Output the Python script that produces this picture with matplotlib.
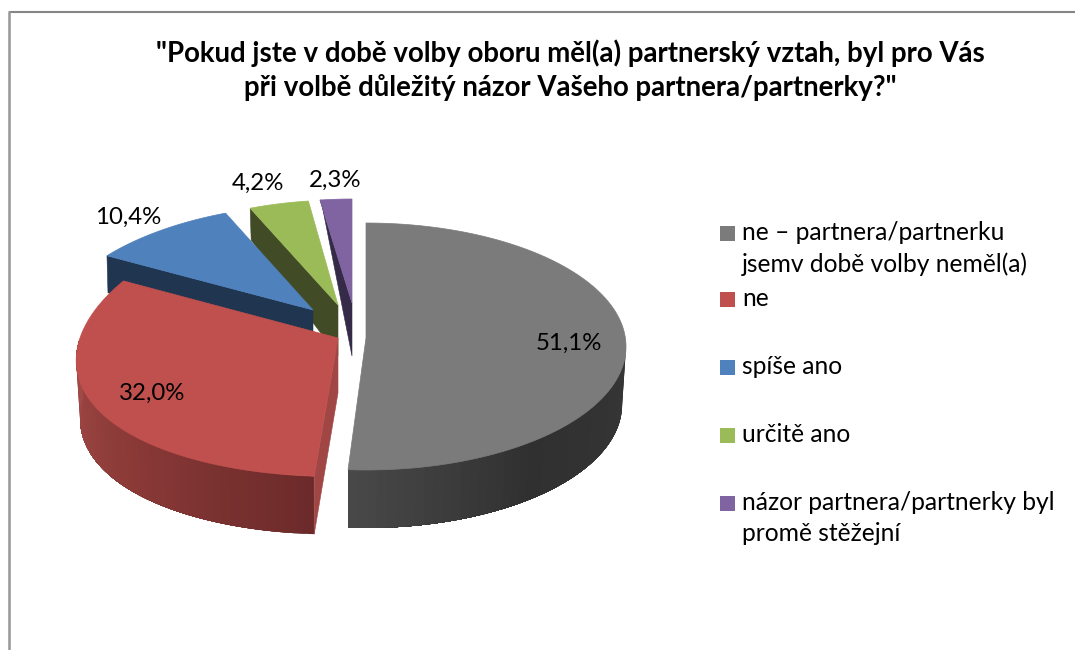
import numpy as np
import matplotlib
matplotlib.use("Agg")
import matplotlib.pyplot as plt
from matplotlib.patches import Polygon, Rectangle
from matplotlib.colors import to_rgb

plt.rcParams['font.family'] = ['Lato', 'DejaVu Sans']

# Data
categories = ["ne – partnera/partnerku\njsemv době volby neměl(a)", "ne", "spíše ano", "určitě ano",
              "názor partnera/partnerky byl\npromě stěžejní"]
values = [51.1, 32.0, 10.4, 4.2, 2.3]
value_labels = ["51,1%", "32,0%", "10,4%", "4,2%", "2,3%"]
title = "\"Pokud jste v době volby oboru měl(a) partnerský vztah, byl pro Vás\npři volbě důležitý názor Vašeho partnera/partnerky?\""

# Styles
top_colors = ["#7b7b7b", "#c0504d", "#4f81bd", "#9bbb59", "#8064a2"]
cut_colors = [None, "#a04745", "#1f3550", "#414b25", "#352a47"]
# exploded-slice geometry: apex, ellipse centre, radii (pixel-based axes)
apex = [(366, 338), (338, 338), (313, 310), (338, 305), (352, 303)]
centre = [(366, 346.5), (334, 345), (315, 304), (341, 300), (352, 299)]
radii = [(260, 123.5), (256, 131.5), (253, 99), (257, 100), (252, 100)]
PERSP = 0.12
DEPTH = 58

label_pos = [(569, 343), (152, 393), (128, 217), (258, 183), (335, 180)]
legend_y = [233, 299, 367, 435, 503]

fig = plt.figure(figsize=(10.75, 6.5), dpi=100)
ax = fig.add_axes([0, 0, 1, 1])
ax.set_xlim(0, 1075)
ax.set_ylim(650, 0)
ax.axis("off")

bounds = np.concatenate([[0], np.cumsum(values)]) / sum(values) * 2 * np.pi


def arc(i, t, depth=0.0, shrink=1.0):
    cx, cy = centre[i]
    rx, ry = radii[i]
    f = 1 - PERSP * np.cos(t) if i else 1.0
    return np.column_stack([cx + rx * shrink * f * np.sin(t), cy - ry * np.cos(t) + depth])


def lerp(c0, c1, u):
    return tuple((1 - u) * a + u * b for a, b in zip(to_rgb(c0), to_rgb(c1)))


def outer_wall(i, t0, t1, stops, z):
    # painted strip by strip, each overlapping the next, so that no seams show
    ts = np.linspace(t0, t1, 46)
    xs = np.array([s[0] for s in stops])
    for n, a in enumerate(ts[:-1]):
        seg = np.linspace(a, t1, 80 - n)
        poly = np.vstack([arc(i, seg), arc(i, seg[::-1], DEPTH, 0.985)])
        u = n / (len(ts) - 2)
        k = max(min(np.searchsorted(xs, u), len(xs) - 1), 1)
        col = lerp(stops[k - 1][1], stops[k][1], (u - xs[k - 1]) / (xs[k] - xs[k - 1]))
        ax.add_patch(Polygon(poly, closed=True, fc=col, ec="none", zorder=z))


def top_face(i, z):
    ts = np.linspace(bounds[i], bounds[i + 1], 160)
    ax.add_patch(Polygon(np.vstack([[apex[i]], arc(i, ts)]), closed=True,
                         fc=top_colors[i], ec=top_colors[i], lw=0.5, zorder=z))


# Back slices: purple, green, blue - the visible face is the cut at their start angle
far_depth = {4: 0, 3: 32, 2: 37}
near_depth = {4: 53, 3: 51, 2: 40}
for i, z in [(4, 2), (3, 3), (2, 4)]:
    start = arc(i, np.array([bounds[i]]))[0]
    ap = apex[i]
    ax.add_patch(Polygon([start, ap, (ap[0], ap[1] + near_depth[i]), (start[0] + 1, start[1] + far_depth[i])],
                         closed=True, fc=cut_colors[i], ec=cut_colors[i], lw=0.4, zorder=z))
    top_face(i, z + 0.5)

# Red slice
outer_wall(1, bounds[1], np.deg2rad(272), [(0, "#6c2b2a"), (0.5, "#8b3a38"), (1, "#a34a47")], 6)
p_end = arc(1, np.array([bounds[1]]))[0]
ax.add_patch(Polygon([apex[1], p_end, (p_end[0], p_end[1] + DEPTH), (apex[1][0], apex[1][1] + 55)],
                     closed=True, fc=cut_colors[1], ec=cut_colors[1], lw=0.4, zorder=6))
top_face(1, 7)

# Grey slice
outer_wall(0, np.deg2rad(88), bounds[1], [(0, "#363636"), (0.55, "#303030"), (1, "#484848")], 8)
top_face(0, 9)

# Value labels
for (x, y), s in zip(label_pos, value_labels):
    ax.text(x, y, s, ha="center", va="center", fontsize=17.3, color="black", zorder=12)

# Legend
for y, name, col in zip(legend_y, categories, top_colors):
    ax.add_patch(Rectangle((720, y - 7.5), 15, 15, fc=col, ec="none", zorder=12))
    ax.text(742, y - 12, name, ha="left", va="top", fontsize=17.7, color="black",
            linespacing=1.42, zorder=12)

# Title
ax.text(570.5, 70, title, ha="center", va="center", fontsize=19.9, fontweight="bold",
        color="black", linespacing=1.32, zorder=12)

# Chart border (top and left only are in frame)
ax.plot([8.5, 1075], [11.5, 11.5], color="#868686", lw=1.5, solid_capstyle="butt", zorder=1)
ax.plot([8.5, 8.5], [11, 650], color="#969696", lw=1.8, solid_capstyle="butt", zorder=1)

fig.savefig("out.png", dpi=100, facecolor="white")
